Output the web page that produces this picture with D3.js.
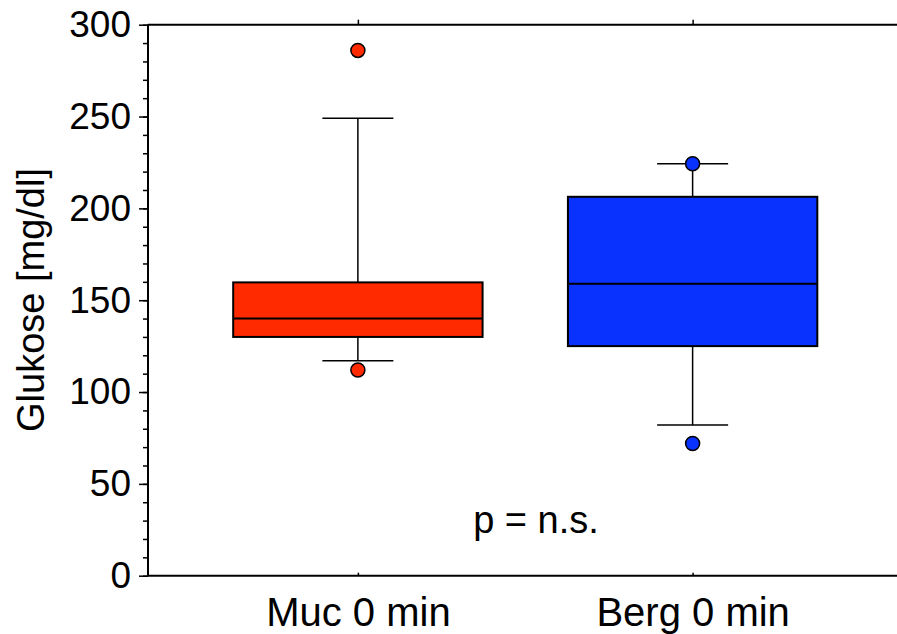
<!DOCTYPE html>
<html>
<head>
<meta charset="utf-8">
<script src="https://cdn.jsdelivr.net/npm/d3@7"></script>
<style>
  body { margin: 0; background: #fff; }
  text { font-family: "Liberation Sans", Arial, sans-serif; fill: #000; }
</style>
</head>
<body>
<script>
// box plot values
var categories = ["Muc 0 min", "Berg 0 min"];
var lowWhisker = [117, 82];
var q1 = [130, 125];
var median = [140, 159];
var q3 = [159.7, 206.3];
var highWhisker = [249, 224.3];
var outliers = [[286, 112], [224.3, 72]];
var colors = ["#ff2a00", "#0a32ff"];
var yTicks = [0, 50, 100, 150, 200, 250, 300];

var width = 897, height = 634;
var plotLeft = 148, plotTop = 24.7, plotBottom = 575.7;

var svg = d3.select("body").append("svg")
    .attr("width", width)
    .attr("height", height);

var y = d3.scaleLinear().domain([0, 300]).range([plotBottom, plotTop]);
var x = d3.scalePoint().domain(categories).range([plotLeft, 902.5]).padding(0.627);
var step = x.step();
var boxW = step * 0.745, capW = 71;

// axis lines
svg.append("line").attr("x1", plotLeft).attr("x2", width).attr("y1", plotBottom).attr("y2", plotBottom)
    .attr("stroke", "#000").attr("stroke-width", 2);
svg.append("line").attr("x1", plotLeft).attr("x2", width).attr("y1", plotTop).attr("y2", plotTop)
    .attr("stroke", "#000").attr("stroke-width", 2);

// y axis with minor ticks
var yAxis = svg.append("g").attr("transform", "translate(" + plotLeft + ",0)")
    .call(d3.axisLeft(y).tickValues(d3.range(0, 301, 10)).tickSize(5).tickFormat(""));
yAxis.select(".domain").attr("stroke-width", 2).attr("d", "M0," + plotBottom + "V" + plotTop);
yAxis.selectAll(".tick line").attr("stroke-width", 1.5);

var yMajor = svg.append("g").attr("transform", "translate(" + plotLeft + ",0)")
    .call(d3.axisLeft(y).tickValues(yTicks).tickSize(9).tickPadding(8));
yMajor.select(".domain").remove();
yMajor.selectAll(".tick line").attr("stroke-width", 1.5);
yMajor.selectAll(".tick text").style("font-size", "37px")
    .style("font-family", "Liberation Sans, Arial, sans-serif").attr("fill", "#000");

// x ticks: inside on bottom, outside on top
var xb = svg.append("g").attr("transform", "translate(0," + plotBottom + ")")
    .call(d3.axisBottom(x).tickSize(-3).tickPadding(22));
xb.select(".domain").remove();
xb.selectAll(".tick line").attr("stroke-width", 1.5);
xb.selectAll(".tick text").style("font-size", "40px")
    .style("font-family", "Liberation Sans, Arial, sans-serif").attr("fill", "#000")
    .attr("dy", "0.71em");

var xt = svg.append("g").attr("transform", "translate(0," + plotTop + ")")
    .call(d3.axisTop(x).tickSize(5).tickFormat(""));
xt.select(".domain").remove();
xt.selectAll(".tick line").attr("stroke-width", 1.5);

// boxes
var g = svg.selectAll(".box").data(categories).enter().append("g").attr("class", "box");

g.append("line")
    .attr("x1", d => x(d)).attr("x2", d => x(d))
    .attr("y1", (d, i) => y(lowWhisker[i])).attr("y2", (d, i) => y(highWhisker[i]))
    .attr("stroke", "#000").attr("stroke-width", 1.5);

g.selectAll(".cap").data((d, i) => [[d, lowWhisker[i]], [d, highWhisker[i]]]).enter().append("line")
    .attr("x1", d => x(d[0]) - capW / 2).attr("x2", d => x(d[0]) + capW / 2)
    .attr("y1", d => y(d[1])).attr("y2", d => y(d[1]))
    .attr("stroke", "#000").attr("stroke-width", 1.5);

g.append("rect")
    .attr("x", d => x(d) - boxW / 2).attr("width", boxW)
    .attr("y", (d, i) => y(q3[i])).attr("height", (d, i) => y(q1[i]) - y(q3[i]))
    .attr("fill", (d, i) => colors[i]).attr("stroke", "#000").attr("stroke-width", 2);

g.append("line")
    .attr("x1", d => x(d) - boxW / 2).attr("x2", d => x(d) + boxW / 2)
    .attr("y1", (d, i) => y(median[i])).attr("y2", (d, i) => y(median[i]))
    .attr("stroke", "#000").attr("stroke-width", 2);

g.selectAll("circle").data((d, i) => outliers[i].map(v => [d, v, i])).enter().append("circle")
    .attr("cx", d => x(d[0])).attr("cy", d => y(d[1])).attr("r", 7)
    .attr("fill", d => colors[d[2]]).attr("stroke", "#000").attr("stroke-width", 1.5);

// labels
svg.append("text")
    .attr("transform", "translate(44," + 300 + ") rotate(-90)")
    .attr("text-anchor", "middle")
    .style("font-size", "38px")
    .text("Glukose [mg/dl]");

svg.append("text")
    .attr("x", 536).attr("y", y(23))
    .attr("text-anchor", "middle")
    .style("font-size", "38px")
    .text("p = n.s.");
</script>
</body>
</html>
